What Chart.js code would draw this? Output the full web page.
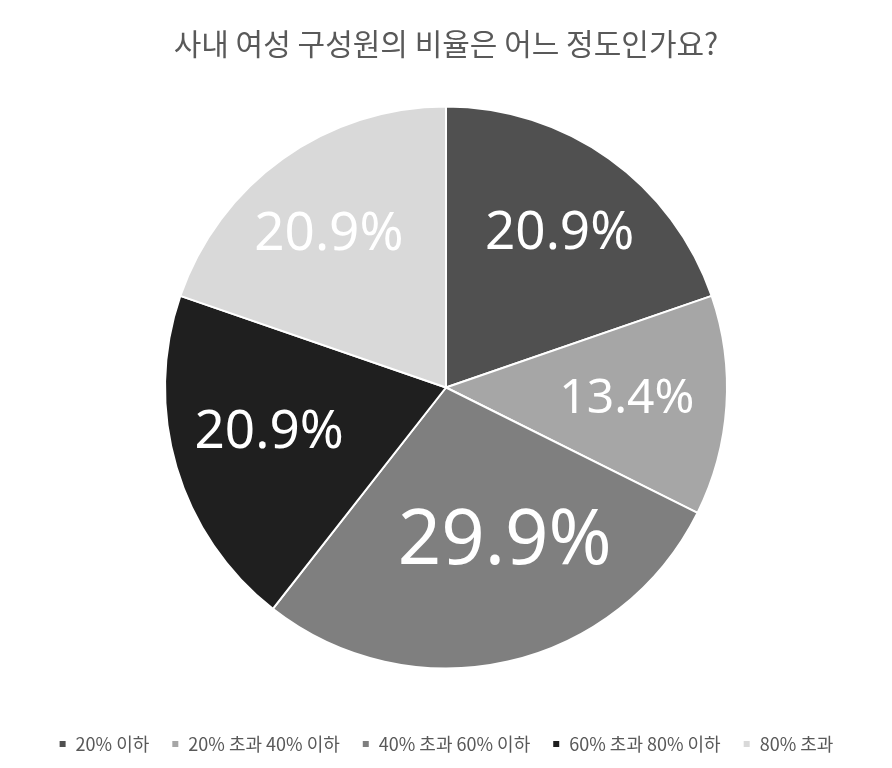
<!DOCTYPE html>
<html>
<head>
<meta charset="utf-8">
<script src="https://cdn.jsdelivr.net/npm/chart.js@4"></script>
<style>
  html, body { margin: 0; padding: 0; background: #fff; }
  #wrap { width: 892px; height: 768px; }
</style>
</head>
<body>
<div id="wrap"><canvas id="pieChart"></canvas></div>
<script>
// data
const categories = ['20% 이하', '20% 초과 40% 이하', '40% 초과 60% 이하', '60% 초과 80% 이하', '80% 초과'];
const shares = [20.9, 13.4, 29.9, 20.9, 20.9];
const sliceColors = ['#505050', '#a6a6a6', '#7f7f7f', '#1f1f1f', '#d9d9d9'];

// label styling per slice: font size, distance from centre (share of radius), angle nudge (deg)
const labelSizes = [53, 48, 76, 53, 53];
const labelDist = [0.68, 0.645, 0.59, 0.65, 0.685];
const labelNudge = [1, 0, -8, 2, -2];

// draws the value inside each slice
const sliceLabels = {
    id: 'sliceLabels',
    afterDatasetsDraw(chart) {
        const ctx = chart.ctx;
        const meta = chart.getDatasetMeta(0);
        ctx.save();
        ctx.fillStyle = '#ffffff';
        ctx.textAlign = 'center';
        ctx.textBaseline = 'middle';
        meta.data.forEach(function(arc, i) {
            const mid = (arc.startAngle + arc.endAngle) / 2 + labelNudge[i] * Math.PI / 180;
            const r = arc.outerRadius * labelDist[i];
            const x = arc.x + Math.cos(mid) * r;
            const y = arc.y + Math.sin(mid) * r;
            ctx.font = labelSizes[i] + 'px "Noto Sans", sans-serif';
            ctx.fillText(shares[i].toFixed(1) + '%', x, y);
        });
        ctx.restore();
    }
};

new Chart(document.getElementById('pieChart'), {
    type: 'pie',
    data: {
        labels: categories,
        datasets: [{
            data: shares,
            backgroundColor: sliceColors,
            borderColor: '#ffffff',
            borderWidth: 2,
            radius: 281
        }]
    },
    options: {
        responsive: true,
        maintainAspectRatio: false,
        animation: false,
        layout: { padding: { top: 13, bottom: 5, left: 0, right: 0 } },
        plugins: {
            title: {
                display: true,
                text: '사내 여성 구성원의 비율은 어느 정도인가요?',
                color: '#595959',
                font: { size: 30, family: '"Noto Sans CJK KR", sans-serif', weight: 'normal' },
                padding: { top: 13, bottom: 0 }
            },
            legend: {
                position: 'bottom',
                labels: {
                    color: '#595959',
                    boxWidth: 8,
                    boxHeight: 8,
                    padding: 22,
                    font: { size: 18, family: '"Noto Sans CJK KR", sans-serif' }
                }
            },
            tooltip: { enabled: false }
        }
    },
    plugins: [sliceLabels]
});
</script>
</body>
</html>
